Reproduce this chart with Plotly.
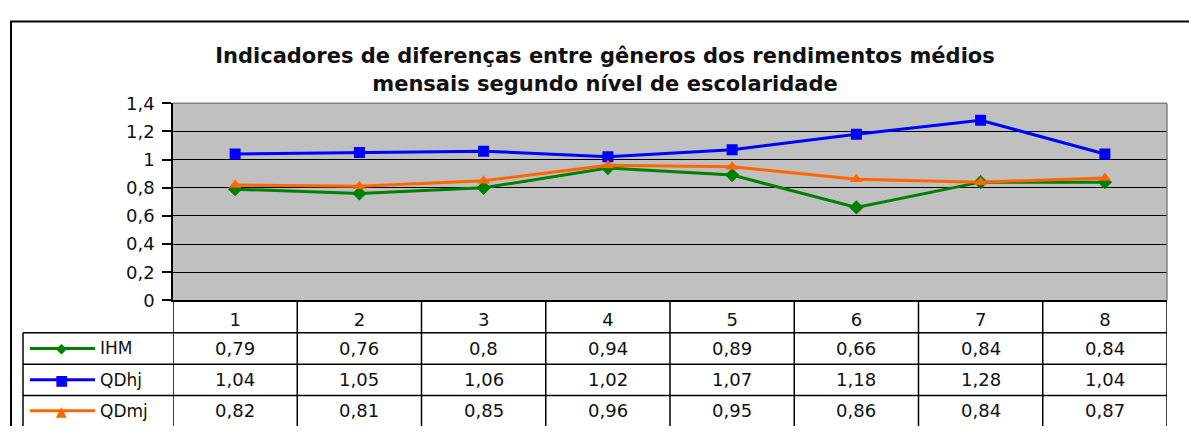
import plotly.graph_objects as go

categories = [1, 2, 3, 4, 5, 6, 7, 8]
ihm = [0.79, 0.76, 0.8, 0.94, 0.89, 0.66, 0.84, 0.84]
qdhj = [1.04, 1.05, 1.06, 1.02, 1.07, 1.18, 1.28, 1.04]
qdmj = [0.82, 0.81, 0.85, 0.96, 0.95, 0.86, 0.84, 0.87]

series = [
    ("IHM", ihm, "#008000", "diamond", "\u25c6"),
    ("QDhj", qdhj, "#0000ff", "square", "\u25a0"),
    ("QDmj", qdmj, "#ff6600", "triangle-up", "\u25b2"),
]

W, H = 1189, 436
FONT = "DejaVu Sans"


def px(x):
    return x / W


def py(y):
    return 1 - y / H


fig = go.Figure()
for name, vals, color, sym, _ in series:
    fig.add_trace(go.Scatter(x=categories, y=vals, mode="lines+markers", name=name,
                             line=dict(color=color, width=3),
                             marker=dict(symbol=sym, size=11, color=color)))

shapes = []
# outer frame
shapes.append(dict(type="line", xref="paper", yref="paper", x0=px(10), x1=1, y0=py(11), y1=py(11),
                   line=dict(color="black", width=2)))
shapes.append(dict(type="line", xref="paper", yref="paper", x0=px(11), x1=px(11), y0=py(11), y1=0,
                   line=dict(color="black", width=2)))
# plot area top / right border
shapes.append(dict(type="line", xref="paper", yref="paper", x0=px(173), x1=px(1167), y0=py(97), y1=py(97),
                   line=dict(color="#808080", width=1.5), layer="above"))
shapes.append(dict(type="line", xref="paper", yref="paper", x0=px(1167), x1=px(1167), y0=py(97), y1=py(304),
                   line=dict(color="#808080", width=1.5), layer="above"))

# data table grid
row_lines = [338, 371, 404]
for yl in row_lines:
    shapes.append(dict(type="line", xref="paper", yref="paper", x0=px(23), x1=px(1167), y0=py(yl), y1=py(yl),
                       line=dict(color="black", width=1.5)))
shapes.append(dict(type="line", xref="paper", yref="paper", x0=px(23), x1=px(23), y0=py(338), y1=0,
                   line=dict(color="black", width=1.5)))
for b in [c - 0.5 for c in categories] + [categories[-1] + 0.5]:
    shapes.append(dict(type="line", xref="x", yref="paper", x0=b, x1=b, y0=py(304), y1=0,
                       line=dict(color="black", width=1.5)))

annotations = []
row_centers = [354.5, 387.5, 420]
for (name, vals, color, sym, glyph), yc in zip(series, row_centers):
    shapes.append(dict(type="line", xref="paper", yref="paper", x0=px(30), x1=px(95), y0=py(yc), y1=py(yc),
                       line=dict(color=color, width=3)))
    annotations.append(dict(xref="paper", yref="paper", x=px(61), y=py(yc), text=glyph, showarrow=False,
                            font=dict(family=FONT, size=14, color=color), xanchor="center", yanchor="middle"))
    annotations.append(dict(xref="paper", yref="paper", x=px(98), y=py(yc), text=name, showarrow=False,
                            font=dict(family=FONT, size=17, color="#111"), xanchor="left", yanchor="middle"))
    for c, v in zip(categories, vals):
        annotations.append(dict(xref="x", yref="paper", x=c, y=py(yc), text=str(v).replace(".", ","),
                                showarrow=False, font=dict(family=FONT, size=18, color="#111"),
                                xanchor="center", yanchor="middle"))

fig.update_layout(
    width=W, height=H,
    margin=dict(l=0, r=0, t=0, b=0),
    paper_bgcolor="white",
    plot_bgcolor="#c0c0c0",
    separators=", ",
    showlegend=False,
    title=dict(text="<b>Indicadores de diferenças entre gêneros dos rendimentos médios<br>"
                    "mensais segundo nível de escolaridade</b>",
               x=px(605), y=py(55), xanchor="center", yanchor="middle", xref="paper", yref="paper",
               font=dict(family=FONT, size=21, color="#111")),
    xaxis=dict(domain=[px(173), px(1167)], range=[0.5, 8.5], tickvals=categories,
               showgrid=False, zeroline=False, showline=True, linecolor="black", linewidth=1.5,
               ticks="", ticklabelstandoff=2, tickfont=dict(family=FONT, size=18, color="#111")),
    yaxis=dict(domain=[py(304), py(97)], range=[0, 1.4], tickvals=[0, 0.2, 0.4, 0.6, 0.8, 1, 1.2, 1.4],
               showgrid=True, gridcolor="black", gridwidth=1, zeroline=False,
               showline=True, linecolor="black", linewidth=1.5,
               ticks="outside", ticklen=9, tickcolor="black", tickwidth=1.5,
               ticklabelstandoff=4, tickfont=dict(family=FONT, size=18, color="#111")),
    shapes=shapes,
    annotations=annotations,
)

fig.write_html("out.html", config={"displayModeBar": False},
               post_script="document.body.style.margin='0';")
